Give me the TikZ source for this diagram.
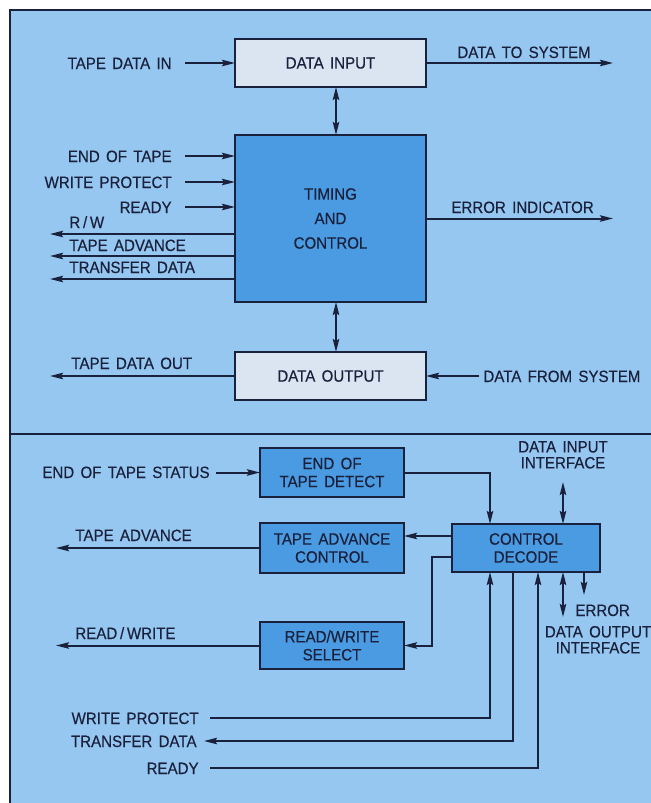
\documentclass[tikz,border=0pt]{standalone}
\usepackage{fontspec}
\setmainfont{Liberation Sans}[FakeStretch=0.92, WordSpace=1.5, FakeBold=0.4]
\usepackage{xcolor}
\usepackage{tikz}
\usetikzlibrary{arrows.meta, positioning}
\definecolor{panelblue}{RGB}{150,199,240}
\definecolor{boxblue}{RGB}{74,155,226}
\definecolor{boxpale}{RGB}{218,229,241}
\definecolor{ink}{RGB}{26,33,60}
\tikzstyle{block} = [rectangle, draw=ink, line width=1pt, fill=boxblue, text=ink, align=center, inner sep=0pt, outer sep=0pt, minimum width=72pt, minimum height=24.5pt, font=\fontsize{8.2}{9}\selectfont]
\tikzstyle{pale} = [block, fill=boxpale, minimum width=95.5pt, minimum height=24pt]
\tikzstyle{lbl} = [inner sep=0pt, text=ink, align=center, font=\fontsize{8.2}{8}\selectfont]
\tikzstyle{arrow} = [line width=1pt, draw=ink, ->, >={Stealth[length=6.5pt, width=3.2pt, inset=1pt]}]
\tikzstyle{biarrow} = [arrow, <->]

\begin{document}
\begin{tikzpicture}[x=0.5pt, y=-0.5pt, node distance=24pt and 24pt]
\useasboundingbox (0,0) rectangle (651,803);

% Panel
\fill[white] (0,0) rectangle (651,803);
\fill[panelblue] (10,10) rectangle (651,803);
\draw[ink, line width=1.2pt] (651,10) -- (10,10) -- (10,803);
\draw[ink, line width=1.2pt] (10,434) -- (651,434);

% Tape unit
\node[pale] (din) at (330.5,63) {DATA INPUT};
\node[block, below=24pt of din, minimum width=95.5pt, minimum height=83.5pt, font=\fontsize{8.2}{12.25}\selectfont] (tc) {TIMING\\AND\\CONTROL};
\node[pale, below=25pt of tc] (dout) {DATA OUTPUT};

\draw[biarrow] ([xshift=2.75pt]din.south) -- ([xshift=2.75pt]tc.north);
\draw[biarrow] ([xshift=2.75pt]tc.south) -- ([xshift=2.75pt]dout.north);

% Data in / out
\coordinate (tdi) at (185,63);
\node[lbl, anchor=base east] (tdil) at (172,69) {TAPE DATA IN};
\draw[arrow] (tdi |- din.west) -- (din.west);
\coordinate (dts) at (613,63);
\node[lbl, anchor=base west] (dtsl) at (457,58) {DATA TO SYSTEM};
\draw[arrow] (din.east) -- (dts |- din.east);

\coordinate (tdo) at (50,376);
\node[lbl, anchor=base west] (tdol) at (71,369) {TAPE DATA OUT};
\draw[arrow] (dout.west) -- (tdo |- dout.west);
\coordinate (dfs) at (479,376);
\node[lbl, anchor=base west] (dfsl) at (483,382) {DATA FROM SYSTEM};
\draw[arrow] (dfs |- dout.east) -- (dout.east);

% Status inputs
\coordinate (eotin) at (185,156);
\coordinate (wpin) at (185,182);
\coordinate (rdyin) at (185,207);
\node[lbl, anchor=base east] (eotinl) at (172,162) {END OF TAPE};
\node[lbl, anchor=base east] (wpinl) at (172,188) {WRITE PROTECT};
\node[lbl, anchor=base east] (rdyinl) at (172,213) {READY};
\draw[arrow] (eotin) -- (eotin -| tc.west);
\draw[arrow] (wpin) -- (wpin -| tc.west);
\draw[arrow] (rdyin) -- (rdyin -| tc.west);

% Control outputs
\coordinate (rwout) at (50,234);
\coordinate (advout) at (50,256);
\coordinate (xfrout) at (50,279);
\node[lbl, anchor=base west] (rwoutl) at (69,228) {R\,/\,W};
\node[lbl, anchor=base west] (advoutl) at (69,251) {TAPE ADVANCE};
\node[lbl, anchor=base west] (xfroutl) at (69,273) {TRANSFER DATA};
\draw[arrow] (rwout -| tc.west) -- (rwout);
\draw[arrow] (advout -| tc.west) -- (advout);
\draw[arrow] (xfrout -| tc.west) -- (xfrout);

\coordinate (errout) at (613,218.5);
\node[lbl, anchor=base west] (erroutl) at (451,213) {ERROR INDICATOR};
\draw[arrow] (tc.east) -- (errout |- tc.east);

% Timing and control detail
\node[block] (eot) at (332,472.5) {END OF\\TAPE DETECT};
\node[block, below=13pt of eot, minimum height=25pt] (tac) {TAPE ADVANCE\\CONTROL};
\node[block, below=24.5pt of tac, minimum height=23.5pt] (rws) {READ/WRITE\\SELECT};
\node[block, right=24pt of tac, minimum width=74pt, minimum height=24pt] (dec) {CONTROL\\DECODE};

\coordinate (eots) at (216,472.5);
\node[lbl, anchor=base east] (eotsl) at (210,478) {END OF TAPE STATUS};
\draw[arrow] (eots |- eot.west) -- (eot.west);
\draw[arrow] (eot.east) -| ([xshift=19pt]dec.north west);

\coordinate (dii) at (563,482);
\node[lbl, anchor=south] (diil) at (563,469) {DATA INPUT\\INTERFACE};
\draw[biarrow] (dii) -- (dii |- dec.north);

\draw[arrow] ([yshift=6pt]dec.west) -- ([yshift=6pt]dec.west -| tac.east);
\draw[arrow] ([yshift=-4.5pt]dec.west) -- ++(-20,0) |- (rws.east);

\coordinate (adv) at (56,548);
\node[lbl, anchor=base west] (advl) at (75,541) {TAPE ADVANCE};
\draw[arrow] (tac.west) -- (adv |- tac.west);
\coordinate (rw) at (56,645.5);
\node[lbl, anchor=base west] (rwl) at (75,639) {READ\,/\,WRITE};
\draw[arrow] (rws.west) -- (rw |- rws.west);

% Decode signals
\coordinate (wp) at (210,718);
\coordinate (td) at (204,741);
\coordinate (rdy) at (210,768);
\node[lbl, anchor=base east] (wpl) at (199,724) {WRITE PROTECT};
\node[lbl, anchor=base east] (tdl) at (197,747) {TRANSFER DATA};
\node[lbl, anchor=base east] (rdyl) at (199,774) {READY};
\draw[arrow] (wp) -| ([xshift=19pt]dec.south west);
\draw[arrow] ([xshift=30.5pt]dec.south west) |- (td);
\draw[arrow] (rdy) -| ([xshift=43pt]dec.south west);

\coordinate (doi) at (563,617);
\coordinate (err) at (584,595);
\draw[biarrow] (doi |- dec.south) -- (doi);
\draw[arrow] (err |- dec.south) -- (err);
\node[lbl, anchor=base west] (errl) at (575,616) {ERROR};
\node[lbl, anchor=south] (doil) at (598,654) {DATA OUTPUT\\INTERFACE};

\end{tikzpicture}
\end{document}
